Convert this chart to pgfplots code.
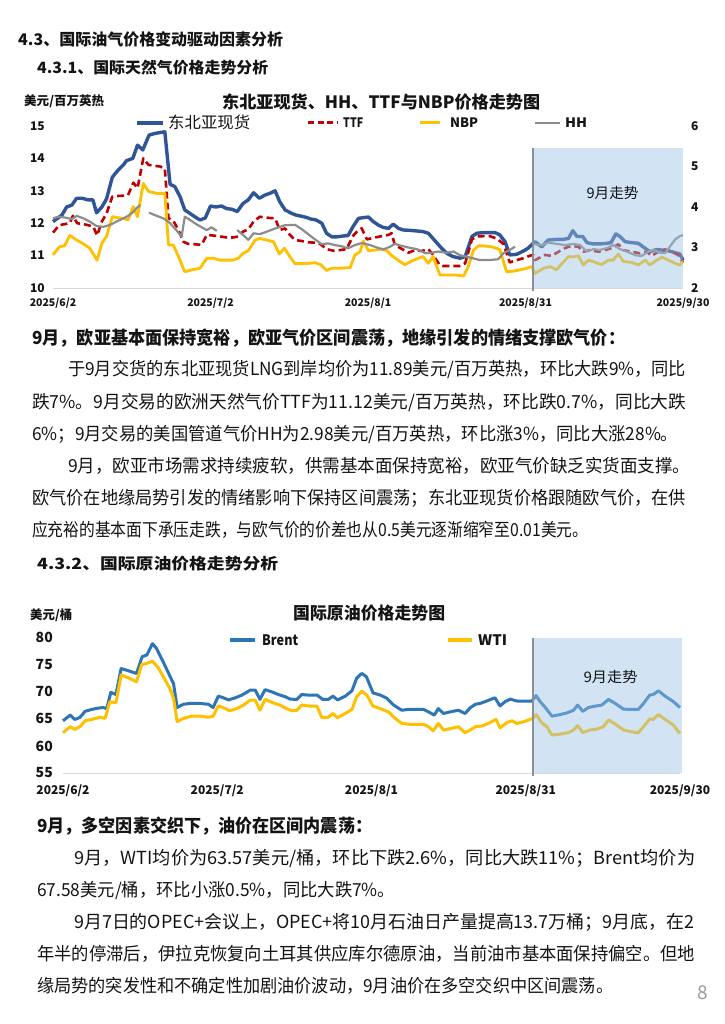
\documentclass[border=0pt]{standalone}
\usepackage{pgfplots}
\pgfplotsset{compat=1.18}
\usepackage{fontspec}
\setmainfont{Noto Sans CJK SC}
\usepackage{graphicx}
\definecolor{nea}{HTML}{2F5597}
\definecolor{ttf}{HTML}{C00000}
\definecolor{nbp}{HTML}{FFC000}
\definecolor{hh}{HTML}{8C8C8C}
\definecolor{brent}{HTML}{2E75B6}
\definecolor{wti}{HTML}{FFC000}
\definecolor{shadecol}{HTML}{9DC3E6}
\definecolor{txt}{HTML}{141414}
\definecolor{axisgray}{HTML}{D9D9D9}
\definecolor{vline}{HTML}{8A8F99}
\newcommand\fs[1]{\fontsize{#1}{#1}\selectfont}
\newcommand\TL[5]{\node[anchor=base west,inner sep=0pt,font=#4,text=txt] at (#1pt,-#2pt) {\resizebox{#3pt}{\height}{#5}};}
\begin{document}
\begin{tikzpicture}
\useasboundingbox (0,0) rectangle (724pt,-1024pt);
\fill[white] (0,0) rectangle (724pt,-1024pt);
% headings
\TL{18}{46}{265}{\fs{16}\bfseries}{4.3、国际油气价格变动驱动因素分析}
\TL{37}{74}{231}{\fs{15.5}\bfseries}{4.3.1、国际天然气价格走势分析}
% chart 1 texts
\TL{24}{105.7}{80}{\fs{12.5}\bfseries}{美元/百万英热}
\TL{222}{108.5}{318}{\fs{17}\bfseries}{东北亚现货、HH、TTF与NBP价格走势图}
\draw[nea,line width=4.5pt] (137pt,-123pt) -- (163pt,-123pt);
\TL{168}{129}{82}{\fs{16}}{东北亚现货}
\draw[ttf,line width=3pt,dash pattern=on 6pt off 3.5pt] (308pt,-123pt) -- (337pt,-123pt);
\TL{343}{127.3}{20}{\fs{13}\bfseries}{TTF}
\draw[nbp,line width=3pt] (420pt,-123pt) -- (440pt,-123pt);
\TL{450}{127.3}{28}{\fs{13}\bfseries}{NBP}
\draw[hh,line width=2.5pt] (535pt,-123pt) -- (560pt,-123pt);
\TL{565}{127.3}{22}{\fs{13}\bfseries}{HH}

\begin{axis}[
 at={(53pt,-288pt)}, anchor=south west,
 width=630pt, height=162pt, scale only axis,
 xmin=0, xmax=120, ymin=10, ymax=15,
 axis x line*=bottom, axis y line*=left,
 x axis line style={draw=axisgray, line width=1pt, -},
 y axis line style={draw=none},
 major tick length=0pt,
 xtick={0,30,60,90,120},
 xticklabels={2025/6/2,2025/7/2,2025/8/1,2025/8/31,2025/9/30},
 ytick={10,11,12,13,14,15},
 xticklabel style={font=\fs{10.5}\bfseries, anchor=base, yshift=-18.7pt, inner sep=0pt, text=txt},
 yticklabel style={font=\fs{12}\bfseries, anchor=east, xshift=-8pt, inner sep=0pt, text=txt},
 /pgf/number format/assume math mode=true,
 clip=false,
]
\addplot[nea, line width=3.4pt, line join=round] coordinates {(0,12.05)(1.7,12.25)(2.6,12.5)(3.6,12.56)(4.5,12.77)(5.5,12.77)(6.7,12.72)(7.6,12.72)(8.3,12.32)(9.3,12.5)(10.2,12.75)(11.3,13.42)(12.4,13.64)(13.4,13.8)(14.0,13.93)(15.2,14.0)(16.1,14.41)(17.1,14.26)(18.3,14.72)(19.4,14.77)(20.4,14.8)(21.3,14.82)(22.3,13.2)(23.2,13.13)(24.2,12.82)(25.1,12.41)(26.1,12.3)(27.0,12.2)(28.0,12.1)(29.0,12.16)(30.0,12.53)(31.0,12.5)(32.1,12.53)(33.1,12.45)(34.1,12.43)(35.1,12.36)(36.2,12.61)(37.2,12.72)(38.2,12.94)(39.3,12.77)(40.4,12.87)(41.3,12.92)(42.3,13.0)(43.2,12.66)(44.2,12.41)(45.5,12.3)(46.3,12.25)(47.2,12.22)(48.2,12.18)(49.1,12.13)(50.1,12.1)(51.2,12.0)(52.1,11.69)(53.1,11.58)(54.1,11.58)(55.0,11.6)(56.2,11.62)(57.2,11.91)(58.2,12.15)(59.0,12.17)(60.1,12.19)(61.0,12.05)(62.0,11.94)(62.9,11.87)(63.9,11.84)(64.8,11.97)(65.8,11.84)(66.7,11.79)(68.0,11.78)(69.3,11.76)(70.5,11.74)(71.5,11.69)(72.8,11.45)(74.0,11.23)(75.0,11.07)(76.2,10.97)(77.5,10.92)(78.5,10.97)(79.8,11.59)(80.7,11.69)(82.0,11.71)(83.0,11.71)(84.2,11.71)(85.1,11.64)(86.1,11.43)(87.0,11.02)(88.3,11.04)(89.6,11.14)(90.5,11.23)(91.8,11.43)(93.1,11.27)(94.3,11.48)(95.9,11.5)(97.1,11.5)(98.2,11.53)(99.0,11.77)(99.8,11.59)(100.9,11.59)(101.7,11.4)(102.9,11.36)(104.2,11.36)(105.5,11.38)(106.3,11.4)(107.2,11.67)(108.0,11.59)(109.0,11.43)(110.2,11.4)(111.5,11.38)(112.4,11.27)(113.7,11.12)(115.0,11.19)(116.0,11.17)(117.2,11.15)(118.5,11.09)(119.4,11.05)(120,10.86)};
\addplot[ttf, line width=2.6pt, dash pattern=on 7pt off 4pt, line join=round] coordinates {(0,11.71)(1.2,11.94)(2.2,11.97)(3.2,12.0)(3.8,12.23)(4.6,12.0)(5.8,11.97)(6.7,11.94)(7.7,11.89)(8.4,11.62)(9.3,12.05)(10.2,12.3)(11.3,12.82)(12.4,12.84)(13.4,12.85)(14.3,12.87)(15.3,13.25)(16.1,13.08)(17.2,14.0)(18.2,13.8)(19.4,13.77)(20.4,13.75)(21.3,13.69)(22.0,12.15)(22.9,12.08)(23.9,11.79)(24.8,11.43)(25.8,11.36)(27.0,11.35)(28.3,11.33)(29.3,11.64)(30.5,11.62)(31.8,11.59)(33.1,11.56)(34.3,11.56)(35.3,11.59)(36.2,11.74)(37.2,11.81)(38.2,12.05)(39.4,12.2)(40.7,12.17)(42.3,12.15)(43.2,11.79)(44.2,11.84)(45.1,11.64)(46.1,11.48)(47.4,11.45)(48.6,11.41)(49.9,11.4)(50.9,11.36)(52.1,11.2)(53.4,11.15)(54.7,11.17)(55.9,11.2)(57.2,11.62)(58.2,11.79)(58.8,11.84)(59.8,11.5)(61.0,11.55)(62.3,11.59)(63.9,11.64)(64.5,11.69)(65.1,11.33)(66.4,11.21)(67.7,11.09)(69.0,11.17)(70.2,11.14)(71.5,11.2)(72.4,11.02)(73.7,10.7)(74.3,10.68)(75.9,10.68)(77.5,10.68)(78.5,10.76)(79.8,11.5)(80.7,11.59)(82.0,11.6)(83.2,11.6)(84.5,11.53)(85.8,11.36)(87.0,10.79)(88.3,10.86)(89.6,10.92)(90.9,11.0)(91.5,11.02)(91.8,10.86)(93.7,11.02)(95.0,10.99)(96.3,11.12)(97.5,11.23)(98.8,11.3)(100.1,11.27)(101.0,11.12)(102.3,11.17)(103.9,11.12)(105.1,11.17)(106.4,11.23)(107.7,11.35)(108.6,11.17)(110.2,11.12)(111.8,11.07)(113.1,11.12)(114.0,10.99)(115.3,11.12)(116.6,11.19)(117.8,11.12)(119.1,11.02)(120,10.79)};
\addplot[nbp, line width=2.8pt, line join=round] coordinates {(0,11.02)(1.2,11.27)(2.2,11.3)(3.2,11.62)(4.5,11.48)(5.8,11.36)(7.0,11.23)(8.4,10.86)(9.3,11.38)(10.2,11.59)(11.3,12.2)(12.4,12.17)(13.4,12.15)(14.3,12.1)(15.3,12.51)(16.1,12.2)(17.2,13.23)(18.2,12.98)(19.8,12.92)(21.3,12.92)(22.0,11.33)(22.9,11.33)(23.9,10.97)(25.1,10.5)(26.4,10.56)(28.0,10.61)(29.3,10.92)(30.5,10.92)(31.8,10.86)(33.1,10.86)(34.3,10.86)(35.3,10.92)(36.2,11.07)(37.2,11.15)(38.5,11.48)(39.4,11.53)(40.7,11.48)(42.0,11.43)(43.1,11.05)(44.1,11.23)(45.1,10.97)(46.1,10.75)(47.4,10.76)(48.6,10.76)(49.9,10.78)(51.0,10.72)(52.1,10.54)(53.1,10.61)(54.3,10.61)(55.6,10.62)(56.6,10.63)(57.5,11.02)(58.5,11.12)(59.1,11.45)(60.1,11.15)(61.3,11.17)(62.6,11.2)(63.6,11.15)(64.5,11.0)(65.8,10.85)(67.0,10.72)(68.3,10.83)(69.6,10.92)(70.5,10.97)(71.5,10.76)(72.4,10.97)(73.7,10.4)(75.2,10.4)(76.7,10.4)(78.2,10.37)(79.1,10.66)(80.1,11.17)(81.0,11.3)(82.0,11.3)(83.6,11.27)(85.1,11.19)(86.4,10.5)(87.7,10.52)(89.0,10.56)(90.2,10.61)(91.2,10.66)(91.8,10.45)(93.4,10.61)(94.7,10.66)(95.9,10.56)(97.2,10.8)(98.2,10.97)(99.1,10.96)(100.1,10.99)(101.0,10.71)(102.0,10.86)(103.2,10.8)(104.5,10.72)(105.8,10.86)(106.7,10.86)(107.7,11.05)(108.6,10.82)(110.2,10.79)(111.5,10.71)(112.8,10.86)(113.7,10.71)(115.0,10.86)(116.0,10.95)(117.2,10.86)(118.5,10.76)(119.4,10.71)(120,10.82)};
\end{axis}
\begin{axis}[
 at={(53pt,-288pt)}, anchor=south west,
 width=630pt, height=162pt, scale only axis,
 xmin=0, xmax=120, ymin=2, ymax=6,
 hide x axis, axis y line*=right,
 y axis line style={draw=none},
 major tick length=0pt,
 ytick={2,3,4,5,6},
 yticklabel style={font=\fs{12}\bfseries, anchor=west, xshift=8pt, inner sep=0pt, text=txt},
 /pgf/number format/assume math mode=true,
 unbounded coords=jump,
 clip=false,
]
\addplot[hh, line width=2.2pt, line join=round] coordinates {(0,3.72)(1.0,3.76)(2.3,3.74)(3.6,3.70)(4.5,3.78)(5.8,3.72)(7.0,3.64)(8.3,3.53)(9.6,3.51)(10.9,3.56)(12.1,3.64)(13.4,3.72)(14.3,3.78)(15.3,3.88)(15.9,3.97)(16.6,4.05)(17.5,nan)(18.3,3.86)(19.4,3.80)(20.4,3.75)(21.3,3.70)(22.3,3.60)(23.2,3.47)(24.5,3.27)(25.1,3.76)(26.1,3.68)(27.0,3.60)(28.3,3.50)(29.3,3.43)(30.2,3.50)(31.2,3.41)(33,nan)(35.1,3.43)(36.2,3.31)(37.2,3.19)(38.2,3.35)(39.4,3.33)(40.7,3.39)(42.3,3.47)(44.2,3.55)(46.1,3.56)(47.4,3.45)(48.6,3.33)(49.9,3.2)(51.2,3.08)(52.4,3.10)(53.7,3.06)(55.0,3.03)(56.2,2.98)(57.5,3.06)(58.8,3.11)(60.4,3.06)(61.7,3.0)(62.9,2.95)(64.2,3.02)(65.1,3.09)(66.4,3.04)(67.7,3.0)(69.3,2.96)(70.9,2.86)(72.1,2.87)(73.4,2.9)(75.0,2.87)(76.3,2.9)(77.5,2.81)(78.8,2.77)(80.1,2.73)(81.3,2.69)(83.2,2.69)(84.8,2.71)(85.8,2.86)(87.0,2.94)(88.0,3.02)(90,nan)(91.8,3.08)(93.1,3.06)(94.3,3.12)(95.9,3.09)(97.5,3.06)(99.1,3.09)(100.4,3.06)(101.7,2.90)(102.9,2.96)(104.2,2.94)(105.8,3.0)(106.7,3.06)(108.0,2.96)(109.3,2.90)(110.9,2.81)(112.1,2.79)(113.4,2.90)(114.4,2.94)(115.6,2.87)(116.6,2.86)(117.5,3.02)(118.5,3.20)(119.4,3.28)(120,3.31)};
\fill[fill=shadecol, fill opacity=0.45] (axis cs:91.5,2) rectangle (axis cs:120,5.457);
\draw[vline, line width=2pt] (axis cs:91.5,1.92) -- (axis cs:91.5,5.457);
\node[anchor=base west, inner sep=0pt, font=\fs{14.5}, text=txt] at (axis cs:101.6,4.22) {\resizebox{52pt}{\height}{9月走势}};
\end{axis}

% paragraph 1
\TL{32}{344.8}{593}{\fs{18}\bfseries}{9月，欧亚基本面保持宽裕，欧亚气价区间震荡，地缘引发的情绪支撑欧气价：}
\TL{68}{375.8}{618}{\fs{18}}{于9月交货的东北亚现货LNG到岸均价为11.89美元/百万英热，环比大跌9\%，同比}
\TL{32}{408.8}{654}{\fs{18}}{跌7\%。9月交易的欧洲天然气价TTF为11.12美元/百万英热，环比跌0.7\%，同比大跌}
\TL{32}{440.8}{646}{\fs{18}}{6\%；9月交易的美国管道气价HH为2.98美元/百万英热，环比涨3\%，同比大涨28\%。}
\TL{68}{472.8}{622}{\fs{18}}{9月，欧亚市场需求持续疲软，供需基本面保持宽裕，欧亚气价缺乏实货面支撑。}
\TL{32}{504.8}{654}{\fs{18}}{欧气价在地缘局势引发的情绪影响下保持区间震荡；东北亚现货价格跟随欧气价，在供}
\TL{32}{536.8}{556}{\fs{18}}{应充裕的基本面下承压走跌，与欧气价的价差也从0.5美元逐渐缩窄至0.01美元。}

\TL{37}{569}{241}{\fs{15.5}\bfseries}{4.3.2、国际原油价格走势分析}

% chart 2 texts
\TL{30}{619.7}{42}{\fs{12.5}\bfseries}{美元/桶}
\TL{293}{619.5}{152}{\fs{17}\bfseries}{国际原油价格走势图}
\draw[brent,line width=3.5pt] (230pt,-640pt) -- (255pt,-640pt);
\TL{262}{645}{36}{\fs{14.5}\bfseries}{Brent}
\draw[wti,line width=3.5pt] (448pt,-640pt) -- (472pt,-640pt);
\TL{478}{645}{29}{\fs{14.5}\bfseries}{WTI}

\begin{axis}[
 at={(63pt,-773pt)}, anchor=south west,
 width=617pt, height=135.3pt, scale only axis,
 xmin=0, xmax=120, ymin=55, ymax=80,
 axis x line*=bottom, axis y line*=left,
 x axis line style={draw=axisgray, line width=1pt, -},
 y axis line style={draw=none},
 major tick length=0pt,
 xtick={0,30,60,90,120},
 xticklabels={2025/6/2,2025/7/2,2025/8/1,2025/8/31,2025/9/30},
 ytick={55,60,65,70,75,80},
 xticklabel style={font=\fs{12}\bfseries, anchor=base, yshift=-21pt, inner sep=0pt, text=txt},
 yticklabel style={font=\fs{14}\bfseries, anchor=east, xshift=-10pt, inner sep=0pt, text=txt},
 /pgf/number format/assume math mode=true,
 clip=false,
]
\addplot[brent, line width=3pt, line join=round] coordinates {(0,64.65)(1.4,65.7)(2.3,64.9)(3.3,65.27)(4.3,66.4)(5.6,66.75)(6.9,67.0)(7.8,67.1)(8.5,66.9)(9.3,69.9)(10.3,69.5)(11.3,74.3)(12.7,73.9)(14.3,73.4)(15.4,76.5)(16.3,76.8)(17.4,78.9)(18.2,78.0)(19.5,75.5)(21.5,71.5)(22.2,67.1)(23.4,67.7)(24.7,67.85)(26.7,67.85)(28.3,67.7)(29.2,67.1)(30.2,69.2)(31.2,68.9)(32.2,68.5)(33.5,68.9)(34.8,69.4)(36.4,70.3)(37.4,70.3)(38.3,68.6)(39.3,70.4)(40.6,70.0)(41.9,69.5)(43.2,69.1)(44.2,68.65)(45.5,68.6)(46.4,69.5)(47.7,69.4)(49.4,69.4)(50.5,68.6)(51.6,68.6)(52.5,69.2)(53.4,68.5)(54.9,69.2)(56.2,70.2)(57.1,72.5)(58.1,73.4)(59.0,72.8)(60.3,69.8)(61.7,69.4)(63.0,68.8)(64.3,67.55)(65.9,66.6)(67.2,66.75)(68.7,66.75)(70.1,66.75)(71.1,66.3)(72.2,65.7)(73.0,66.9)(74.0,66.0)(75.3,66.3)(76.9,66.6)(78.2,66.0)(79.2,67.05)(80.2,67.7)(81.1,67.85)(82.4,68.3)(84.0,68.9)(85.0,67.4)(86.0,68.2)(87.0,68.65)(88.3,68.3)(89.7,68.3)(91.2,68.3)(92.0,69.3)(92.8,68.2)(93.8,67.1)(95.1,65.5)(96.7,65.8)(98.0,66.1)(99.3,66.6)(100.1,67.55)(101.1,66.4)(102.2,67.1)(103.5,67.35)(104.8,67.55)(106.1,68.6)(107.4,67.85)(109.0,66.8)(110.6,66.75)(111.9,66.75)(112.9,67.85)(114.1,69.4)(114.8,69.5)(115.8,70.2)(117.1,69.2)(118.7,68.2)(120,67.1)};
\addplot[wti, line width=3pt, line join=round] coordinates {(0,62.45)(1.4,63.55)(2.3,63.05)(3.3,63.55)(4.3,64.65)(5.6,64.9)(7.2,65.3)(8.2,65.1)(9.1,68.15)(10.3,68.0)(11.3,73.1)(12.7,72.6)(14.3,71.85)(15.3,75.05)(16.3,75.25)(17.4,75.65)(18.5,74.5)(20.8,70.6)(21.5,68.8)(22.2,64.5)(23.4,65.1)(25.0,65.5)(26.7,65.5)(28.3,65.3)(29.2,65.5)(30.2,67.4)(31.2,67.05)(32.4,66.5)(33.8,66.9)(35.1,67.55)(36.4,68.45)(37.4,68.45)(38.3,66.6)(39.3,68.6)(40.9,67.95)(42.2,67.55)(43.5,66.9)(44.5,66.5)(45.5,66.6)(46.4,67.55)(48.1,67.35)(49.4,67.35)(50.3,65.3)(51.6,65.3)(52.5,66.0)(53.4,65.2)(54.9,66.0)(56.2,66.75)(57.1,69.1)(58.1,70.1)(59.1,69.4)(60.3,67.35)(61.7,66.9)(63.3,66.3)(64.6,65.1)(65.9,64.15)(67.5,64.0)(68.7,64.0)(70.1,64.0)(71.1,63.55)(72.0,62.8)(73.0,64.15)(74.0,62.95)(75.6,63.25)(76.9,63.55)(78.2,62.45)(79.2,62.95)(80.2,63.55)(81.5,63.7)(82.7,64.15)(84.2,64.9)(85.0,63.35)(86.3,64.3)(87.3,64.65)(88.3,64.15)(89.7,64.5)(91.4,65.1)(92.0,65.8)(93.1,64.3)(94.1,63.55)(95.1,62.0)(96.7,62.2)(98.3,62.45)(99.3,62.95)(100.1,63.75)(101.1,62.45)(102.5,62.95)(103.8,63.1)(105.1,63.55)(106.1,64.8)(107.4,64.05)(109.0,62.95)(110.6,62.6)(111.9,62.45)(112.9,63.55)(114.1,65.0)(114.8,64.9)(115.8,65.8)(117.1,64.9)(118.7,63.85)(120,62.3)};
\fill[fill=shadecol, fill opacity=0.45] (axis cs:91.5,55) rectangle (axis cs:120.3,80);
\draw[vline, line width=2pt] (axis cs:91.5,54.4) -- (axis cs:91.5,80);
\node[anchor=base west, inner sep=0pt, font=\fs{14.5}, text=txt] at (axis cs:101.2,71.7) {\resizebox{54pt}{\height}{9月走势}};
\end{axis}

% paragraph 2
\TL{37}{832.8}{335}{\fs{18}\bfseries}{9月，多空因素交织下，油价在区间内震荡：}
\TL{74}{864.8}{621}{\fs{18}}{9月，WTI均价为63.57美元/桶，环比下跌2.6\%，同比大跌11\%；Brent均价为}
\TL{37}{896.8}{358}{\fs{18}}{67.58美元/桶，环比小涨0.5\%，同比大跌7\%。}
\TL{74}{928.8}{620}{\fs{18}}{9月7日的OPEC+会议上，OPEC+将10月石油日产量提高13.7万桶；9月底，在2}
\TL{37}{960.8}{658}{\fs{18}}{年半的停滞后，伊拉克恢复向土耳其供应库尔德原油，当前油市基本面保持偏空。但地}
\TL{37}{992.8}{576}{\fs{18}}{缘局势的突发性和不确定性加剧油价波动，9月油价在多空交织中区间震荡。}
\node[inner sep=0pt, font=\fs{19}, text=black!40] at (703pt,-993pt) {8};
\end{tikzpicture}
\end{document}
